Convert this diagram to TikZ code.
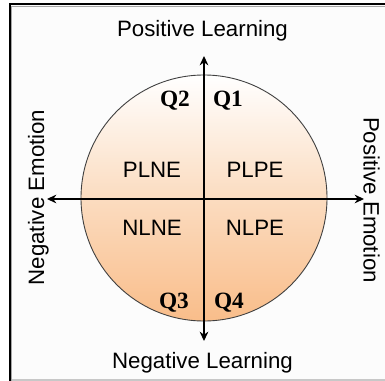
\documentclass[tikz,border=0pt]{standalone}
\usepackage{fontspec}
\setmainfont{Liberation Sans}
\newfontfamily\qfont{Liberation Serif}
\usetikzlibrary{arrows.meta}
\definecolor{orangeb}{RGB}{249,189,138}
\definecolor{orangem}{RGB}{251,220,192}
\definecolor{framegray}{RGB}{200,200,200}
\tikzset{
  lbl/.style={inner sep=0pt, anchor=base, font=\fontsize{16.7}{18}\selectfont},
  qlbl/.style={inner sep=0pt, anchor=base, font=\qfont\bfseries\fontsize{17.5}{19}\selectfont},
  axis/.style={line width=1.05pt, {Stealth[length=7pt,width=6.5pt]}-{Stealth[length=7pt,width=6.5pt]}},
}
\begin{document}
\begin{tikzpicture}[x=0.75pt,y=-0.75pt]
\useasboundingbox (0,0) rectangle (385,381);
% frame
\fill[white] (0,0) rectangle (385,381);
\fill[white!99!black] (10,5) rectangle (385,380);
\draw[framegray, line width=1.125pt] (10,380) -- (385,380);
\draw[gray!70, line width=0.75pt] (11.5,381) -- (11.5,6.5) -- (385,6.5);
\draw[black, line width=1.5pt] (9.5,381) -- (9.5,4.5) -- (385,4.5);
% circle
\node[circle, minimum size=184.5pt, inner sep=0pt, draw=black!75, line width=0.675pt,
      top color=white, bottom color=orangeb, middle color=orangem] (circ) at (204,198) {};
% axes
\coordinate (vtop) at (204,56);
\coordinate (vbot) at (204,341);
\coordinate (hleft) at (47,199);
\coordinate (hright) at (364,199);
\draw[axis] (vbot) -- (vtop);
\draw[axis] (hleft) -- (hright);
% axis labels
\node[lbl] (pl) at (202.5,37) {Positive Learning};
\node[lbl] (nl) at (202.5,368) {Negative Learning};
\node[lbl, rotate=90] (ne) at (44,197.5) {Negative Emotion};
\node[lbl, rotate=-90] (pe) at (363.5,200) {Positive Emotion};
% quadrant labels
\node[qlbl] (q2) at (175,107) {Q2};
\node[qlbl] (q1) at (228,107) {Q1};
\node[qlbl] (q3) at (174,308) {Q3};
\node[qlbl] (q4) at (229,308) {Q4};
\node[lbl] (plne) at (152,177) {PLNE};
\node[lbl] (plpe) at (255,177) {PLPE};
\node[lbl] (nlne) at (152,235) {NLNE};
\node[lbl] (nlpe) at (255,235) {NLPE};
\end{tikzpicture}
\end{document}
